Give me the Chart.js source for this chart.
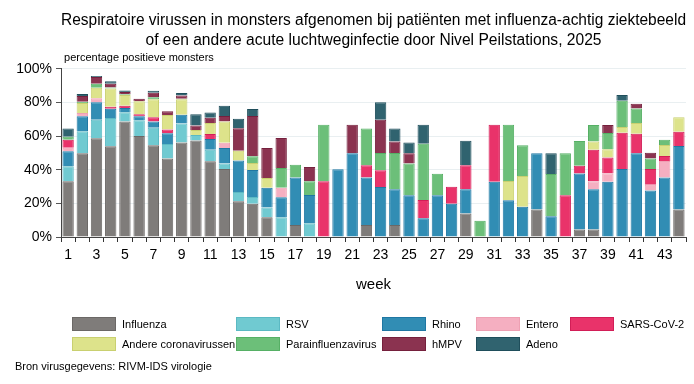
<!DOCTYPE html>
<html>
<head>
<meta charset="utf-8">
<script src="https://cdn.jsdelivr.net/npm/chart.js@4"></script>
<style>
  body { margin:0; background:#fff; font-family:"Liberation Sans", Arial, sans-serif; }
  #wrap { position:relative; width:694px; height:384px; }
  #legenda .item { position:absolute; height:14px; font-size:11px; color:#000; }
  #legenda .box { position:absolute; left:0; top:0; width:42px; height:12px; border:1px solid; }
  #legenda .txt { position:absolute; left:50px; top:0; line-height:14px; white-space:nowrap; }
  #bron { position:absolute; left:15px; top:360px; font-size:11px; color:#000; }
</style>
</head>
<body>
<div id="wrap">
  <canvas id="grafiekVirussen" width="694" height="384"></canvas>
  <div id="legenda"></div>
  <div id="bron">Bron virusgegevens: RIVM-IDS virologie</div>
</div>
<script>
var weken = [];
for (var i = 1; i <= 44; i++) weken.push(String(i));

var influenza = [33.1,49.7,58.6,53.9,68.7,60,54.5,46.7,56.2,57.4,45,40.4,21.2,19.8,11.7,0,7.1,0,0,0,0,7.1,0,7.1,0,0,0,0,13.9,0,0,0,0,16.4,0,0,4.4,4.4,0,0,0,0,0,16.4];
var rsv = [8.9,13.1,11.1,16.8,5.4,9.3,10.4,8.5,11.3,3.2,6.9,3.2,5.5,4,5.9,11.7,0,8.1,0,0,0,0,0,0,0,0,0,0,0,0,0,0,0,0,0,0,0,0,0,0,0,0,0,0];
var rhino = [8.9,8.9,10.3,5.5,2.5,2.4,3.8,6.4,5.2,0,6.3,9.3,18.8,16,11.7,11.9,28.3,16.9,0,40.2,49.7,28.3,29.7,21.2,24.8,11.1,24.8,19.8,14.4,0,32.9,21.8,18,33.3,12.3,0,33.4,23.9,32.9,40.4,49.7,27.7,35.4,37.7];
var entero = [2.2,2,2.4,0,0,0,0,0,0,0,0,3.1,0,0,0,5.7,0,0,0,0,0,0,0,0,0,0,0,0,0,0,0,0,0,0,0,0,0,4.8,4.9,0,0,3.4,9.7,0];
var sarsCov2 = [4.7,0,0,1.2,1.4,1.2,2.4,2.2,0,0,3,0,0,0,0,0,0,0,33.1,0,0,7.2,9.9,0,0,10.9,0,10.1,14.3,0,33.8,0,0,0,0,24.8,4.6,18.8,9.5,21.6,11.7,9.3,3,8.5];
var andereCorona = [0,5.9,6.3,10.9,6.4,7.7,10.7,8.7,9.1,3,6.5,12.7,5.8,4.2,5.7,0,0,0,0,0,0,0,0,0,0,0,0,0,0,0,0,11.5,18.2,0,0,0,0,4.9,4.8,3.3,6.3,0,6.6,8.5];
var parainfluenza = [1.8,0.8,2.4,0.6,0.4,0,1.2,0,0.4,0,0,0,0,4,0,11.7,7.6,8.1,33.6,0,0,21.8,10.3,21.6,18.8,33.4,12.8,0,0,9.7,0,33.4,18.3,0,25.1,24.9,14.6,9.7,9.7,15.7,8.7,6.3,3.1,0];
var hmpv = [0,3.4,3.9,2.2,1.3,1.6,2.7,2.2,1.8,2.7,3.2,3.2,13.3,23.9,17.9,17.8,0,8.5,0,0,17,0,19.8,6.9,6.1,0,0,0,0,0,0,0,0,0,0,0,0,0,4.7,0,2.8,3.4,0,0];
var adeno = [4.8,1.2,0.6,1.4,1,0,1.2,0,1.5,6.6,3,6.1,5.7,4.1,0,0,0,0,0,0,0,0,10.3,7.6,6.5,11.3,0,0,14.6,0,0,0,0,0,12.3,0,0,0,0,3.4,0,0,0,0];

var yTicks = [0, 20, 40, 60, 80, 100];

var reeksen = [
  {naam:"Influenza", data:influenza, kleur:"#7f7c7a", rand:"#6b6866"},
  {naam:"RSV", data:rsv, kleur:"#70cad1", rand:"#5bb9c3"},
  {naam:"Rhino", data:rhino, kleur:"#318db4", rand:"#1f77a3"},
  {naam:"Entero", data:entero, kleur:"#f5afc1", rand:"#eea0b3"},
  {naam:"SARS-CoV-2", data:sarsCov2, kleur:"#e9336a", rand:"#d21e57"},
  {naam:"Andere coronavirussen", data:andereCorona, kleur:"#dde38b", rand:"#c9d070"},
  {naam:"Parainfluenzavirus", data:parainfluenza, kleur:"#6cbf79", rand:"#56b065"},
  {naam:"hMPV", data:hmpv, kleur:"#8b3350", rand:"#75203d"},
  {naam:"Adeno", data:adeno, kleur:"#30636f", rand:"#1f4e5b"}
];

var font = "'Liberation Sans', Arial, sans-serif";

function grafiek(){
    var canva = document.getElementById("grafiekVirussen").getContext("2d");
    new Chart(canva,{
        type:"bar",
        data:{
            labels:weken,
            datasets:reeksen.map(function(r){
                return {
                    label:r.naam,
                    data:r.data.map(function(v){ return v || null; }),
                    backgroundColor:r.kleur,
                    borderColor:r.rand,
                    borderWidth:1,
                    barPercentage:0.8,
                    categoryPercentage:1
                };
            })
        },
        options:{
            responsive:false,
            animation:false,
            layout:{ padding:{ left:0, right:8, top:0, bottom:90 } },
            plugins:{
                legend:{ display:false },
                tooltip:{ enabled:false },
                title:{
                    display:true,
                    fullSize:false,
                    text:["Respiratoire virussen in monsters afgenomen bij patiënten met influenza-achtig ziektebeeld",
                          "of een andere acute luchtweginfectie door Nivel Peilstations, 2025"],
                    font:{ family:font, size:15.6, weight:"normal", lineHeight:1.33 },
                    color:"#000",
                    padding:{ top:10, bottom:0 }
                },
                subtitle:{
                    display:true,
                    fullSize:false,
                    align:"start",
                    text:" percentage positieve monsters",
                    font:{ family:font, size:11, lineHeight:1.2 },
                    color:"#000",
                    padding:{ top:0, bottom:4 }
                }
            },
            scales:{
                x:{
                    stacked:true,
                    grid:{ drawOnChartArea:false, drawTicks:true, tickLength:5, tickColor:"#333" },
                    border:{ color:"#444" },
                    ticks:{
                        autoSkip:false, maxRotation:0, color:"#000", padding:5,
                        font:{ family:font, size:14 },
                        callback:function(v, i){ return i % 2 === 0 ? weken[i] : ""; }
                    },
                    title:{ display:true, text:"week", color:"#000", font:{ family:font, size:15 }, padding:{ top:0, bottom:0 } },
                    afterFit:function(s){ s.height = 57; }
                },
                y:{
                    stacked:true,
                    min:0, max:100,
                    afterBuildTicks:function(s){ s.ticks = yTicks.map(function(v){ return {value:v}; }); },
                    grid:{ color:"#e9eff1", tickColor:"#555", tickLength:5 },
                    border:{ color:"#444" },
                    ticks:{ color:"#000", padding:4, font:{ family:font, size:14 },
                        callback:function(v){ return v + "%"; } },
                    afterFit:function(s){ s.width = 61; }
                }
            }
        }
    });
}

function legenda(){
    var kolX = [72, 236, 382, 476, 570];
    var rijY = [317, 337];
    var el = document.getElementById("legenda");
    reeksen.forEach(function(r, i){
        var item = document.createElement("div");
        item.className = "item";
        item.style.left = kolX[i % 5] + "px";
        item.style.top = rijY[Math.floor(i / 5)] + "px";
        item.innerHTML = '<div class="box" style="background:' + r.kleur + ';border-color:' + r.rand + '"></div><div class="txt">' + r.naam + '</div>';
        el.appendChild(item);
    });
}

grafiek();
legenda();
</script>
</body>
</html>
